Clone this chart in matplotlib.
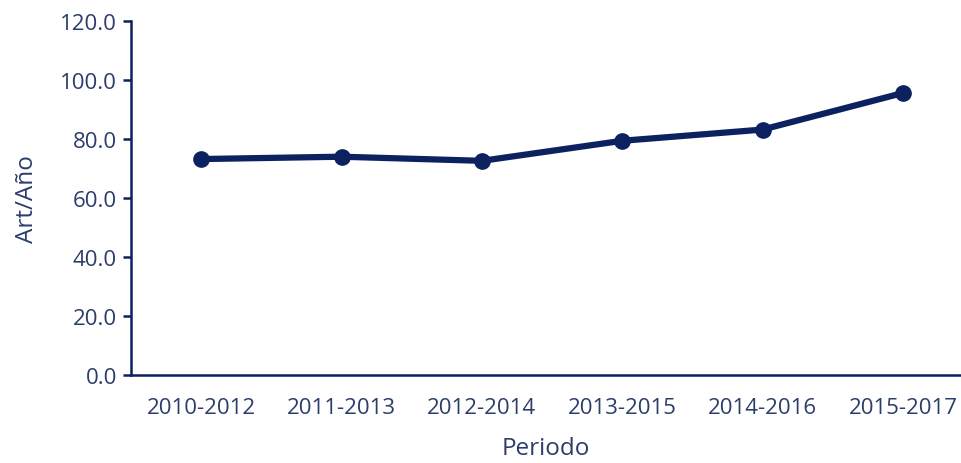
import matplotlib.pyplot as plt
import numpy as np

periodos = ['2010-2012', '2011-2013', '2012-2014', '2013-2015', '2014-2016', '2015-2017']
art_anio = [73.2, 74.0, 72.6, 79.4, 83.2, 95.6]

plt.rcParams['font.family'] = ['Open Sans', 'DejaVu Sans']

navy = '#0c2260'
txt = '#2b3d6b'

fig = plt.figure(figsize=(9.61, 4.64), dpi=100)
ax = fig.add_axes([131 / 961, 88 / 464, 830 / 961, 354 / 464])

x = np.arange(len(periodos))
ax.plot(x, art_anio, color=navy, linewidth=4.5, marker='o', markersize=11,
        solid_capstyle='round', solid_joinstyle='round')

ax.set_xlim(-0.5, (961 - 201) / 140.4)
ax.set_ylim(0, 120)
ax.set_yticks(np.arange(0, 121, 20))
ax.set_yticklabels(['%.1f' % v for v in np.arange(0, 121, 20)])
ax.set_xticks(x)
ax.set_xticklabels(periodos)

for s in ['top', 'right']:
    ax.spines[s].set_visible(False)
for s in ['left', 'bottom']:
    ax.spines[s].set_color(navy)
    ax.spines[s].set_linewidth(1.8)

ax.tick_params(axis='y', colors=navy, labelcolor=txt, length=6, width=1.8,
               labelsize=16, pad=4)
ax.tick_params(axis='x', length=0, labelcolor=txt, labelsize=16, pad=16)

ax.set_xlabel('Periodo', fontsize=17.5, color=txt, labelpad=13)
ax.set_ylabel('Art/Año', fontsize=17.5, color=txt, labelpad=15)

fig.savefig('out.png', dpi=100)
